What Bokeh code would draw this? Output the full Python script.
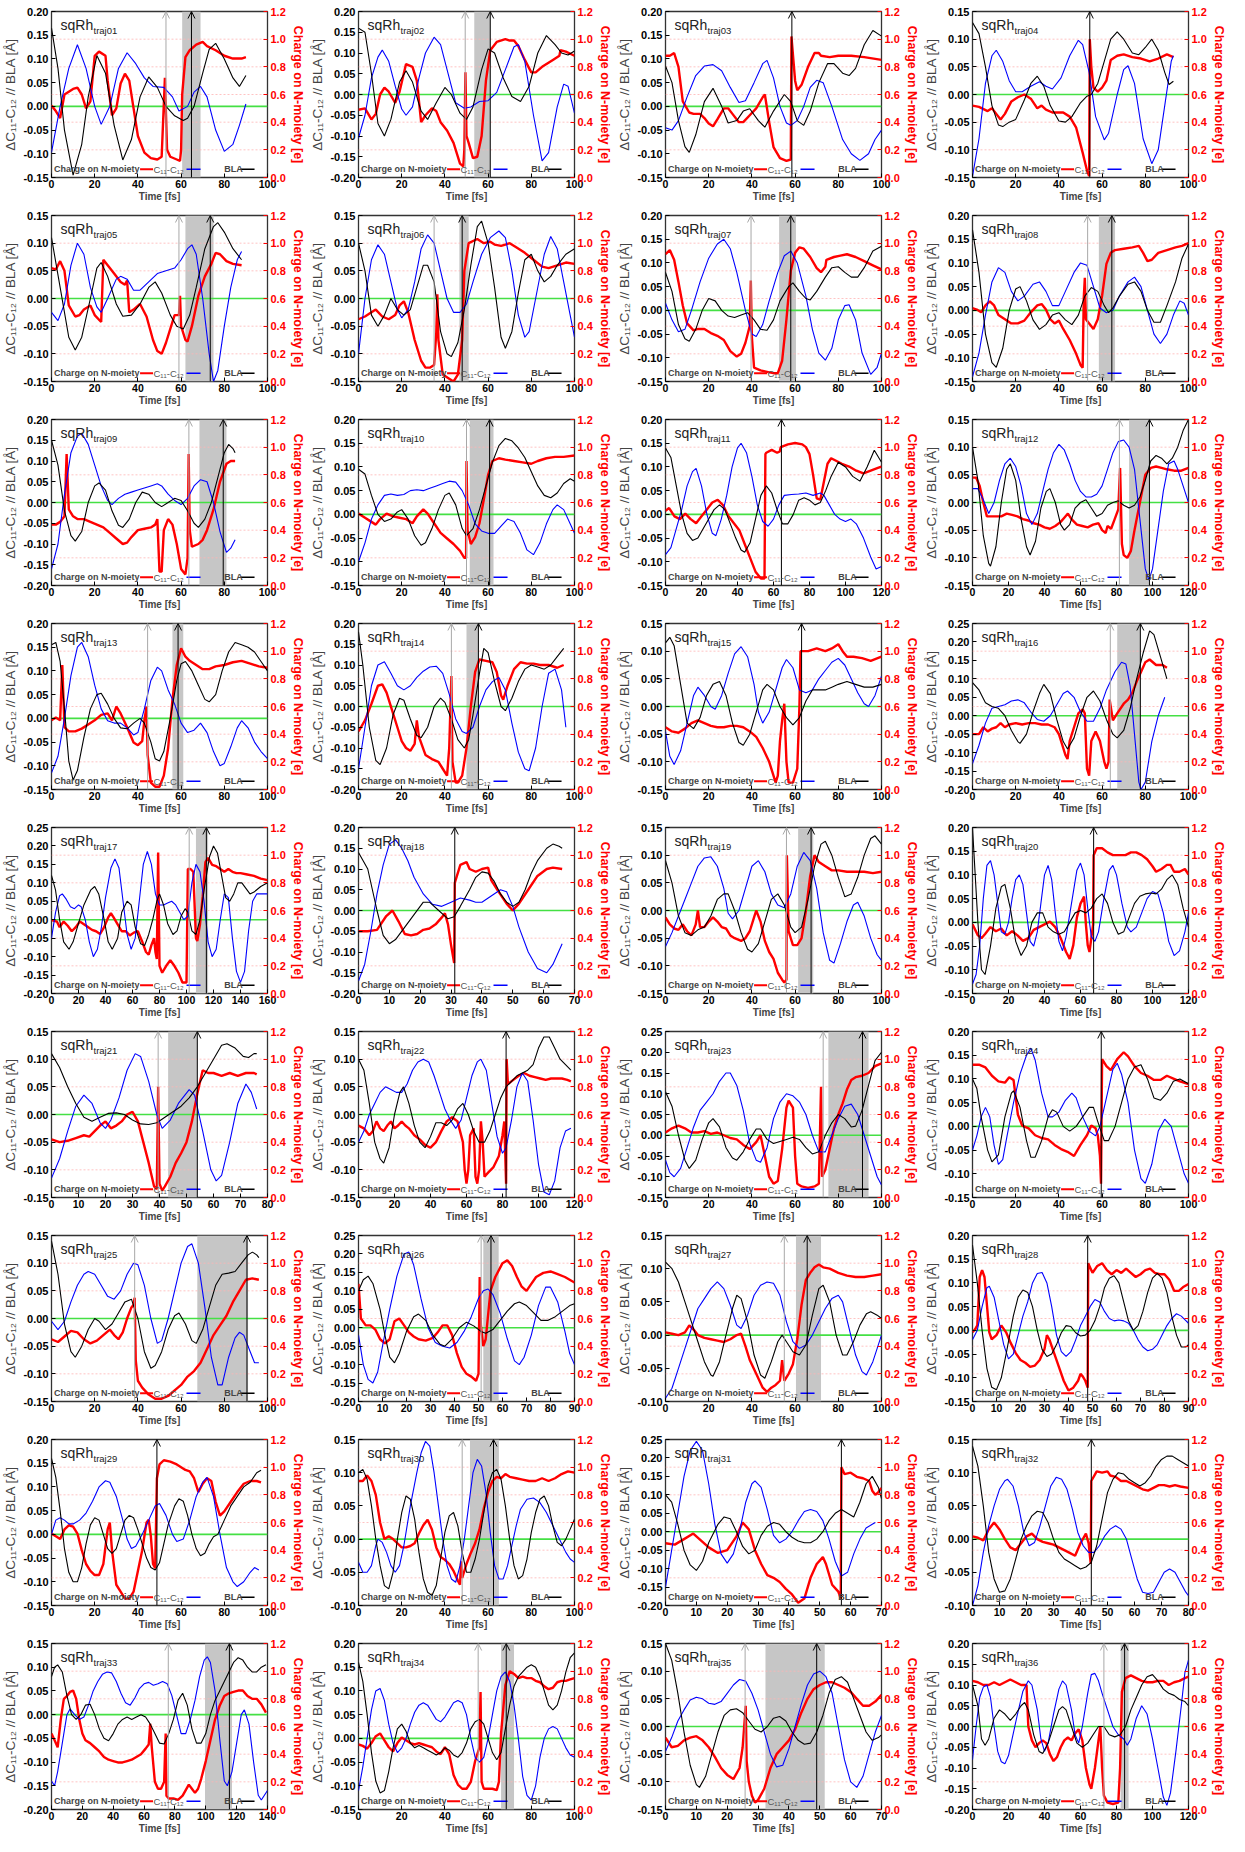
from bokeh.plotting import figure
from bokeh.layouts import gridplot
from bokeh.models import (Range1d, LinearAxis, FixedTicker, NumeralTickFormatter,
                          Span, BoxAnnotation, Arrow, OpenHead, Label)
from bokeh.embed import file_html
from bokeh.resources import INLINE

FONT = "Liberation Sans"

traj_names = ["traj01", "traj02", "traj03", "traj04", "traj05", "traj06", "traj07", "traj08",
              "traj09", "traj10", "traj11", "traj12", "traj13", "traj14", "traj15", "traj16",
              "traj17", "traj18", "traj19", "traj20", "traj21", "traj22", "traj23", "traj24",
              "traj25", "traj26", "traj27", "traj28", "traj29", "traj30", "traj31", "traj32",
              "traj33", "traj34", "traj35", "traj36"]
x_max = [100, 100, 100, 100, 100, 100, 100, 100, 100, 100, 120, 120, 100, 100, 100, 100,
         160, 70, 100, 120, 80, 120, 100, 100, 100, 90, 100, 90, 100, 100, 70, 80,
         140, 100, 70, 120]
y_lo = [-0.15, -0.20, -0.15, -0.15, -0.15, -0.15, -0.15, -0.15, -0.20, -0.15, -0.15, -0.15,
        -0.15, -0.20, -0.15, -0.20, -0.20, -0.20, -0.15, -0.15, -0.15, -0.15, -0.15, -0.15,
        -0.15, -0.20, -0.10, -0.15, -0.15, -0.10, -0.20, -0.10, -0.20, -0.15, -0.15, -0.20]
y_hi = [0.20, 0.20, 0.20, 0.15, 0.15, 0.15, 0.20, 0.20, 0.20, 0.20, 0.20, 0.15,
        0.20, 0.20, 0.15, 0.25, 0.25, 0.20, 0.15, 0.20, 0.15, 0.15, 0.25, 0.20,
        0.15, 0.25, 0.15, 0.20, 0.20, 0.15, 0.25, 0.15, 0.15, 0.20, 0.15, 0.20]
hop_attempt = [53, 49.4, None, None, 59, 35, 39.6, 53.3, 63.6, 50, None, 81.6,
               44.5, 43, None, 63.8, 102, None, 56, None, 39.5, None, 73, None,
               38.5, 51.1, 55, None, None, 48, None, None, 75.7, 55.4, 25.8, 73]
shade_start = [60.5, 53.6, None, None, 62, 46.7, 52.6, 58.5, 68.5, 51.5, None, 87,
               56, 50, None, 67, 107, None, 61.4, None, 43.2, None, 75.4, None,
               67.5, 52, 60.4, None, None, 51.6, None, None, 99.5, 66, 32.4, 82.3]
shade_end = [69, 61, None, None, 75, 51, 60.4, 66, 81, 62.5, None, 98.3,
             61, 55.5, None, 77.7, 116, None, 68.4, None, 54, None, 94, None,
             91, 58.4, 72, None, None, 65, None, None, 117, 72, 51.6, 86.7]
hop_time = [64.8, 61, 58.5, 54.3, 73.5, 48, 58, 64.5, 79.5, 60.7, 64.4, 98.3,
            58.6, 55.5, 63, 77.7, 114.7, 31.2, 67.4, 67.3, 54, 82, 91.2, 59.6,
            90.5, 55.2, 65.6, 48, 48.8, 62.5, 57, 44, 115.3, 68.4, 49, 84.5]

# ---------- traj01 ----------
bla01 = [(0,0.165),(3,0.08),(6,-0.05),(10,-0.145),(14,-0.08),(17,0.02),(21,0.107),(25,0.07),(29,-0.04),(33,-0.113),(37,-0.07),(41,0.02),(45,0.062),(49,0.04),(53,0.0),(57,-0.02),(61,-0.03),(63,-0.025),(66,0.0),(70,0.07),(73,0.12),(76,0.133),(80,0.1),(84,0.06),(87,0.042),(90,0.065)]
cc01 = [(0,-0.097),(4,0.0),(8,0.08),(12,0.13),(16,0.08),(20,0.0),(23,-0.038),(27,0.0),(31,0.08),(35,0.113),(39,0.09),(43,0.06),(47,0.042),(52,0.04),(56,0.02),(59,-0.01),(63,0.0),(66,0.03),(69,0.042),(72,0.02),(76,-0.05),(80,-0.095),(84,-0.08),(87,-0.04),(90,0.005)]
q01 = [(0,0.52),(2,0.48),(4,0.43),(6,0.6),(10,0.64),(12,0.65),(14,0.6),(16,0.5),(18,0.55),(20,0.88),(22,0.91),(25,0.88),(26,0.7),(28,0.45),(30,0.5),(32,0.68),(34,0.75),(36,0.7),(38,0.5),(40,0.3),(43,0.18),(46,0.14),(49,0.13),(51,0.15),(52.5,0.72),(53.5,0.2),(55,0.15),(58,0.13),(59.5,0.12),(60,0.2),(60.5,0.6),(62,0.87),(64,0.92),(67,0.96),(70,0.98),(72,0.95),(76,0.92),(80,0.88),(84,0.86),(88,0.86),(90,0.87)]
# ---------- traj02 ----------
bla02 = [(0,0.16),(3,0.15),(6,0.05),(9,-0.07),(12,-0.1),(15,-0.06),(19,0.03),(22,0.057),(25,0.03),(29,-0.04),(32,-0.06),(36,-0.02),(40,0.017),(43,0.0),(47,-0.045),(50,-0.06),(53,-0.03),(57,0.06),(60,0.11),(63,0.1),(67,0.04),(71,-0.005),(75,-0.017),(79,0.02),(83,0.1),(87,0.142),(91,0.12),(94,0.1),(97,0.095),(100,0.105)]
cc02 = [(0,-0.105),(3,-0.05),(6,0.04),(9,0.09),(11,0.107),(14,0.08),(17,0.02),(20,-0.035),(22,-0.05),(25,-0.03),(28,0.04),(31,0.1),(35,0.138),(38,0.12),(41,0.06),(45,-0.02),(49,-0.033),(52,-0.03),(56,-0.017),(60,-0.015),(64,0.005),(68,0.06),(72,0.115),(74,0.12),(77,0.08),(81,-0.05),(85,-0.16),(88,-0.14),(92,-0.03),(95,0.025),(97,0.02),(100,-0.045)]
q02 = [(0,0.49),(3,0.5),(6,0.42),(8,0.46),(10,0.6),(12,0.65),(14,0.62),(17,0.54),(19,0.62),(22,0.82),(25,0.8),(27,0.7),(29,0.4),(31,0.45),(34,0.5),(36,0.48),(38,0.4),(41,0.34),(44,0.25),(47,0.1),(48.5,0.08),(49,0.2),(49.5,0.76),(50,0.3),(51,0.25),(53,0.14),(55,0.15),(57,0.3),(59,0.7),(61,0.92),(64,0.98),(68,1.0),(70,0.99),(72,0.99),(74,0.95),(77,0.85),(80,0.76),(82,0.76),(85,0.8),(90,0.85),(93,0.88),(93.5,0.92),(96,0.91),(100,0.88)]
# ---------- traj03 ----------
bla03 = [(0,0.085),(3,0.05),(6,-0.03),(9,-0.085),(11,-0.097),(14,-0.06),(18,0.01),(22,0.038),(26,0.0),(29,-0.035),(33,-0.03),(36,-0.01),(39,-0.005),(43,-0.03),(46,-0.044),(50,-0.01),(55,0.025),(58,0.01),(61,-0.03),(64,-0.04),(67,-0.01),(71,0.05),(75,0.09),(78,0.09),(82,0.07),(85,0.065),(88,0.08),(92,0.13),(96,0.16),(100,0.148)]
cc03 = [(0,-0.045),(3,-0.05),(6,-0.03),(10,0.02),(14,0.065),(18,0.085),(22,0.088),(26,0.075),(30,0.04),(34,0.008),(37,0.012),(41,0.05),(45,0.09),(47,0.097),(50,0.06),(53,0.0),(56,-0.035),(58,-0.04),(61,-0.03),(64,0.0),(67,0.04),(70,0.055),(73,0.05),(77,0.0),(82,-0.07),(86,-0.1),(90,-0.114),(94,-0.1),(97,-0.07),(100,-0.05)]
q03 = [(0,0.88),(2,0.88),(4,0.9),(6,0.8),(8,0.55),(11,0.47),(13,0.46),(16,0.46),(18,0.43),(20,0.39),(22,0.37),(24,0.42),(27,0.5),(29,0.5),(31,0.46),(34,0.4),(36,0.4),(39,0.45),(42,0.5),(45,0.58),(46,0.6),(48,0.4),(50,0.22),(53,0.14),(56,0.12),(58,0.13),(58.3,1.02),(60,0.7),(61,0.63),(63,0.67),(66,0.8),(69,0.9),(71,0.9),(72,0.88),(76,0.87),(80,0.88),(86,0.88),(92,0.87),(100,0.85)]
# ---------- traj04 ----------
bla04 = [(0,0.13),(3,0.11),(6,0.05),(9,-0.02),(12,-0.055),(14,-0.058),(17,-0.05),(20,-0.045),(24,-0.01),(27,0.02),(30,0.033),(33,0.015),(36,-0.02),(40,-0.048),(43,-0.05),(46,-0.04),(50,-0.015),(53,-0.003),(55,0.0),(58,0.02),(61,0.06),(64,0.1),(67,0.113),(70,0.1),(74,0.075),(77,0.072),(80,0.085),(83,0.1),(86,0.08),(89,0.04),(91,0.018),(93,0.024)]
cc04 = [(0,-0.148),(3,-0.08),(6,0.02),(9,0.07),(11,0.08),(14,0.06),(17,0.025),(20,0.005),(23,0.005),(27,0.015),(31,0.023),(34,0.015),(37,0.01),(41,0.03),(45,0.07),(49,0.098),(51,0.09),(54,0.04),(57,-0.04),(61,-0.082),(63,-0.07),(67,0.0),(70,0.045),(72,0.052),(75,0.02),(79,-0.08),(83,-0.125),(86,-0.1),(89,-0.02),(92,0.06),(93,0.07)]
q04 = [(0,0.52),(3,0.51),(7,0.48),(9,0.5),(11,0.46),(13,0.42),(15,0.46),(18,0.55),(21,0.58),(24,0.6),(27,0.57),(30,0.5),(32,0.52),(34,0.49),(37,0.47),(42,0.47),(45,0.44),(48,0.36),(51,0.18),(53,0.05),(54,0.01),(54.3,1.0),(55,0.8),(56,0.65),(58,0.62),(60,0.65),(62,0.7),(64,0.85),(67,0.88),(70,0.89),(74,0.87),(78,0.86),(82,0.84),(86,0.86),(90,0.89),(93,0.87)]
# ---------- traj05 ----------
bla05 = [(0,0.11),(4,0.02),(8,-0.07),(11,-0.093),(14,-0.07),(18,0.0),(21,0.055),(23,0.065),(26,0.04),(30,-0.01),(33,-0.032),(37,-0.03),(41,-0.01),(45,0.02),(48,0.03),(51,0.01),(55,-0.03),(58,-0.05),(61,-0.055),(64,-0.03),(67,0.02),(71,0.09),(75,0.13),(77,0.137),(80,0.12),(84,0.09),(88,0.07)]
cc05 = [(0,-0.025),(3,-0.04),(6,-0.01),(9,0.06),(12,0.1),(15,0.08),(18,0.02),(21,-0.015),(23,-0.025),(26,0.0),(30,0.035),(32,0.04),(35,0.035),(38,0.015),(41,0.015),(45,0.03),(49,0.045),(53,0.05),(57,0.055),(60,0.07),(63,0.09),(65,0.097),(67,0.08),(70,0.0),(73,-0.1),(75,-0.15),(77,-0.13),(80,-0.05),(83,0.02),(86,0.07),(88,0.085)]
q05 = [(0,0.82),(2,0.81),(4,0.87),(6,0.8),(8,0.55),(11,0.47),(13,0.48),(15,0.52),(18,0.55),(20,0.48),(23,0.43),(24,0.88),(26,0.84),(29,0.78),(32,0.72),(34,0.7),(35,0.73),(36,0.5),(38,0.52),(41,0.56),(44,0.47),(47,0.3),(49,0.22),(51,0.2),(53,0.28),(55,0.38),(57,0.48),(59,0.48),(59.5,0.62),(60,0.4),(62,0.3),(63,0.29),(65,0.4),(68,0.62),(71,0.76),(74,0.85),(76,0.93),(78,0.92),(81,0.87),(84,0.85),(88,0.84)]
# ---------- traj06 ----------
bla06 = [(0,0.1),(3,0.05),(6,-0.03),(9,-0.05),(12,-0.03),(15,0.0),(18,-0.02),(21,-0.03),(24,-0.02),(27,0.02),(30,0.06),(32,0.06),(35,0.03),(38,-0.06),(41,-0.1),(43,-0.105),(46,-0.08),(49,-0.02),(52,0.06),(55,0.13),(57,0.14),(60,0.1),(63,0.02),(66,-0.07),(68,-0.09),(71,-0.06),(74,0.01),(77,0.07),(80,0.08),(83,0.05),(86,0.03),(89,0.04),(92,0.06),(96,0.08),(100,0.09)]
cc06 = [(0,-0.1),(3,0.0),(6,0.07),(9,0.097),(12,0.08),(15,0.03),(18,-0.02),(20,-0.035),(23,-0.02),(26,0.03),(29,0.09),(32,0.115),(35,0.1),(38,0.05),(41,0.0),(44,-0.025),(47,-0.025),(50,-0.01),(53,0.03),(57,0.08),(61,0.11),(65,0.122),(68,0.11),(71,0.05),(74,-0.03),(77,-0.07),(79,-0.06),(82,0.0),(86,0.08),(89,0.112),(92,0.09),(95,0.03),(98,-0.03),(100,-0.07)]
q06 = [(0,0.45),(3,0.47),(6,0.5),(8,0.52),(11,0.47),(14,0.45),(17,0.48),(19,0.55),(21,0.58),(23,0.5),(26,0.3),(29,0.15),(31,0.1),(33,0.1),(35,0.12),(36,0.35),(36.5,0.63),(37,0.3),(39,0.05),(42,0.02),(44,0.0),(46,0.05),(48,0.3),(49,0.8),(51,1.0),(55,1.03),(58,1.0),(61,1.01),(63,0.99),(66,0.98),(68,0.99),(70,1.0),(73,0.97),(77,0.93),(81,0.88),(85,0.83),(88,0.82),(92,0.84),(96,0.86),(100,0.85)]
# ---------- traj07 ----------
bla07 = [(0,0.08),(3,0.04),(6,-0.03),(9,-0.06),(11,-0.065),(14,-0.04),(17,0.0),(20,0.025),(23,0.02),(26,0.0),(29,-0.012),(32,-0.015),(35,-0.01),(38,-0.005),(41,-0.02),(44,-0.04),(47,-0.042),(50,-0.02),(53,0.02),(57,0.05),(59,0.058),(62,0.04),(65,0.025),(67,0.022),(70,0.04),(74,0.07),(77,0.09),(80,0.092),(83,0.08),(86,0.07),(89,0.07),(92,0.09),(96,0.125),(100,0.135)]
cc07 = [(0,0.015),(3,-0.02),(6,-0.045),(9,-0.04),(12,0.0),(16,0.06),(20,0.11),(24,0.14),(27,0.15),(30,0.13),(33,0.08),(37,0.0),(40,-0.05),(42,-0.055),(45,-0.03),(48,0.02),(52,0.08),(55,0.115),(58,0.125),(61,0.1),(65,0.03),(68,-0.04),(71,-0.09),(74,-0.105),(77,-0.08),(80,-0.02),(83,0.01),(85,0.012),(88,-0.02),(91,-0.09),(95,-0.135),(98,-0.12),(100,-0.09)]
q07 = [(0,0.92),(2,0.95),(4,0.88),(6,0.72),(8,0.55),(10,0.42),(13,0.37),(15,0.38),(18,0.38),(21,0.35),(24,0.33),(27,0.3),(30,0.22),(33,0.18),(35,0.2),(37,0.28),(39,0.4),(39.5,0.73),(40,0.32),(41,0.1),(44,0.08),(47,0.07),(50,0.06),(52,0.06),(54,0.15),(56,0.45),(58,0.8),(60,0.93),(62,0.97),(64,0.96),(67,0.9),(70,0.82),(72,0.79),(74,0.83),(74.5,0.88),(78,0.9),(81,0.91),(84,0.92),(88,0.9),(92,0.87),(96,0.84),(100,0.81)]
# ---------- traj08 ----------
bla08 = [(0,0.17),(3,0.08),(6,-0.05),(9,-0.11),(11,-0.12),(14,-0.08),(17,0.0),(20,0.045),(22,0.05),(25,0.02),(28,-0.02),(31,-0.04),(34,-0.03),(37,-0.01),(40,-0.005),(43,-0.02),(46,-0.03),(49,-0.01),(52,0.03),(55,0.048),(58,0.04),(61,0.01),(63,-0.005),(65,0.005),(68,0.03),(72,0.055),(75,0.06),(78,0.04),(81,0.0),(84,-0.025),(87,-0.025),(90,0.01),(94,0.06),(97,0.11),(100,0.14)]
cc08 = [(0,-0.14),(3,-0.09),(6,-0.01),(9,0.06),(12,0.09),(15,0.08),(18,0.04),(21,0.02),(24,0.03),(28,0.055),(31,0.06),(34,0.04),(37,0.01),(40,0.01),(43,0.04),(47,0.08),(50,0.1),(53,0.095),(56,0.05),(59,0.005),(62,-0.005),(65,0.0),(68,0.03),(72,0.06),(75,0.07),(78,0.05),(81,0.0),(84,-0.05),(87,-0.07),(90,-0.05),(93,-0.01),(96,0.02),(98,0.015),(100,-0.01)]
q08 = [(0,0.53),(2,0.52),(4,0.5),(6,0.55),(8,0.58),(10,0.55),(12,0.48),(15,0.45),(18,0.42),(21,0.42),(24,0.44),(27,0.5),(30,0.55),(32,0.56),(34,0.52),(36,0.45),(38,0.42),(40,0.44),(42,0.38),(45,0.3),(48,0.2),(50,0.12),(51,0.1),(51.5,0.6),(52,0.75),(52.5,0.45),(54,0.42),(56,0.38),(58,0.45),(60,0.62),(62,0.85),(64,0.93),(66,0.95),(70,0.96),(74,0.97),(77,0.98),(79,0.93),(81,0.87),(83,0.88),(86,0.93),(90,0.95),(94,0.97),(97,0.98),(100,1.0)]
# ---------- traj09 ----------
bla09 = [(0,0.15),(3,0.09),(6,-0.02),(9,-0.08),(11,-0.093),(14,-0.07),(17,0.0),(20,0.04),(22,0.047),(25,0.03),(28,-0.02),(31,-0.055),(33,-0.06),(36,-0.04),(39,0.0),(42,0.025),(45,0.02),(48,0.0),(51,-0.01),(54,0.0),(57,0.01),(60,0.005),(63,-0.02),(66,-0.05),(68,-0.06),(71,-0.04),(74,0.0),(77,0.06),(80,0.12),(82,0.14),(84,0.13),(85,0.12)]
cc09 = [(0,-0.16),(3,-0.1),(6,0.02),(9,0.12),(12,0.16),(14,0.167),(17,0.14),(20,0.09),(23,0.04),(26,0.005),(28,-0.005),(31,0.01),(34,0.02),(37,0.025),(40,0.03),(43,0.035),(46,0.04),(49,0.045),(51,0.04),(54,0.02),(57,0.005),(60,-0.005),(63,0.01),(66,0.04),(69,0.055),(72,0.05),(75,0.0),(78,-0.07),(81,-0.12),(83,-0.11),(85,-0.09)]
q09 = [(0,0.44),(2,0.44),(4,0.46),(6,0.5),(7,0.95),(8,0.55),(10,0.5),(12,0.48),(15,0.48),(18,0.46),(21,0.44),(24,0.42),(27,0.38),(30,0.34),(33,0.3),(35,0.31),(37,0.35),(40,0.4),(43,0.41),(46,0.42),(48,0.44),(49,0.48),(50,0.1),(51,0.1),(52,0.4),(54,0.48),(56,0.44),(58,0.3),(60,0.12),(62,0.08),(63,0.2),(63.5,0.95),(64,0.4),(65,0.28),(68,0.3),(70,0.33),(72,0.4),(75,0.55),(78,0.75),(81,0.88),(83,0.9),(85,0.9)]
# ---------- traj10 ----------
bla10 = [(0,0.095),(3,0.085),(6,0.04),(9,0.0),(12,-0.015),(15,-0.01),(18,0.005),(20,0.01),(23,-0.01),(26,-0.045),(29,-0.065),(31,-0.06),(34,-0.03),(37,0.01),(40,0.04),(42,0.045),(45,0.02),(48,-0.03),(50,-0.045),(53,-0.03),(56,0.01),(59,0.06),(62,0.11),(65,0.145),(68,0.16),(71,0.155),(74,0.14),(77,0.12),(80,0.09),(83,0.06),(86,0.04),(89,0.035),(92,0.045),(95,0.065),(98,0.075),(100,0.07)]
cc10 = [(0,-0.1),(3,-0.06),(6,-0.01),(9,0.02),(12,0.04),(15,0.043),(18,0.04),(21,0.042),(24,0.05),(27,0.052),(30,0.05),(33,0.055),(36,0.06),(39,0.065),(42,0.07),(45,0.068),(48,0.05),(51,0.02),(54,-0.02),(57,-0.035),(60,-0.04),(63,-0.04),(66,-0.025),(69,-0.01),(72,-0.015),(75,-0.04),(78,-0.075),(81,-0.085),(84,-0.06),(87,-0.02),(90,0.01),(92,0.02),(95,0.01),(98,-0.02),(100,-0.04)]
q10 = [(0,0.52),(3,0.49),(6,0.46),(8,0.44),(10,0.48),(13,0.52),(16,0.5),(19,0.49),(22,0.48),(25,0.45),(27,0.5),(30,0.55),(32,0.52),(35,0.45),(38,0.38),(41,0.34),(44,0.3),(47,0.25),(49,0.2),(49.8,0.2),(50,0.9),(50.5,0.4),(52,0.3),(54,0.35),(56,0.45),(58,0.62),(60,0.8),(62,0.9),(65,0.92),(68,0.91),(72,0.9),(76,0.89),(80,0.88),(83,0.9),(87,0.92),(91,0.93),(95,0.93),(100,0.94)]
# ---------- traj11 ----------
bla11 = [(0,0.14),(3,0.12),(6,0.06),(9,0.0),(12,-0.04),(15,-0.055),(18,-0.05),(21,-0.03),(24,-0.01),(27,0.01),(30,0.02),(33,0.01),(36,-0.02),(39,-0.05),(42,-0.075),(44,-0.08),(47,-0.06),(50,-0.01),(53,0.04),(56,0.06),(59,0.045),(62,0.01),(65,-0.02),(68,-0.02),(71,0.0),(74,0.03),(77,0.035),(80,0.03),(83,0.02),(86,0.025),(89,0.05),(92,0.08),(96,0.11),(100,0.1),(104,0.08),(108,0.07),(112,0.1),(116,0.135),(120,0.11)]
cc11 = [(0,-0.085),(3,-0.07),(6,-0.03),(9,0.01),(12,0.06),(15,0.09),(17,0.097),(20,0.06),(23,0.0),(26,-0.04),(28,-0.045),(31,-0.01),(34,0.04),(37,0.1),(40,0.14),(42,0.15),(45,0.13),(48,0.08),(51,0.02),(54,-0.015),(57,-0.025),(60,-0.01),(63,0.02),(66,0.04),(70,0.042),(74,0.043),(78,0.045),(82,0.04),(86,0.045),(88,0.04),(91,0.02),(94,0.0),(97,-0.01),(100,-0.015),(103,-0.01),(106,-0.02),(110,-0.05),(114,-0.09),(117,-0.115),(120,-0.11)]
q11 = [(0,0.54),(2,0.56),(5,0.5),(8,0.48),(11,0.52),(14,0.48),(17,0.45),(20,0.5),(23,0.55),(26,0.6),(29,0.62),(32,0.58),(35,0.5),(38,0.45),(41,0.4),(44,0.3),(47,0.2),(50,0.1),(53,0.05),(55,0.05),(55.5,0.95),(56,0.96),(59,0.98),(62,0.96),(63.5,0.97),(64,1.0),(68,1.02),(72,1.03),(76,1.02),(78,1.0),(80,0.95),(82,0.8),(84,0.63),(86,0.62),(88,0.75),(90,0.88),(92,0.92),(95,0.9),(98,0.88),(102,0.86),(106,0.83),(110,0.81),(114,0.83),(118,0.85),(120,0.86)]
# ---------- traj12 ----------
bla12 = [(0,0.1),(3,0.04),(6,-0.06),(9,-0.11),(10,-0.115),(13,-0.08),(16,0.0),(19,0.06),(21,0.07),(24,0.04),(27,-0.03),(30,-0.08),(32,-0.095),(35,-0.07),(38,-0.01),(41,0.02),(43,0.025),(46,0.0),(49,-0.04),(51,-0.05),(54,-0.04),(57,-0.01),(60,0.0),(63,0.005),(66,-0.01),(69,-0.025),(72,-0.02),(75,-0.005),(78,0.0),(81,0.003),(84,-0.005),(87,-0.01),(90,-0.005),(93,0.01),(96,0.04),(99,0.075),(102,0.085),(105,0.08),(108,0.07),(111,0.08),(114,0.1),(117,0.13),(120,0.15)]
cc12 = [(0,0.025),(3,0.025),(6,0.005),(9,-0.02),(12,0.0),(15,0.04),(18,0.07),(21,0.08),(24,0.065),(27,0.03),(30,-0.02),(33,-0.04),(36,-0.02),(39,0.02),(42,0.06),(45,0.09),(48,0.105),(51,0.095),(54,0.07),(57,0.04),(60,0.02),(63,0.01),(66,0.01),(69,0.015),(72,0.03),(75,0.06),(78,0.09),(81,0.11),(84,0.113),(87,0.1),(90,0.06),(93,-0.03),(96,-0.12),(98,-0.14),(100,-0.12),(103,-0.05),(106,0.02),(109,0.07),(112,0.075),(114,0.06),(117,0.03),(120,0.0)]
q12 = [(0,0.78),(2,0.78),(4,0.72),(6,0.6),(8,0.5),(10,0.5),(13,0.5),(16,0.5),(19,0.52),(22,0.51),(25,0.5),(28,0.48),(31,0.47),(34,0.45),(37,0.44),(40,0.42),(43,0.41),(46,0.43),(49,0.46),(51,0.49),(53,0.52),(55,0.48),(58,0.44),(61,0.43),(64,0.42),(67,0.44),(70,0.45),(72,0.4),(74,0.38),(75,0.43),(77,0.41),(79,0.48),(81,0.55),(82,0.85),(83,0.3),(84,0.22),(86,0.2),(88,0.25),(90,0.4),(93,0.6),(96,0.8),(99,0.85),(102,0.86),(105,0.85),(108,0.84),(112,0.83),(116,0.83),(120,0.85)]
# ---------- traj13 ----------
bla13 = [(0,0.155),(2,0.16),(4,0.12),(6,0.02),(8,-0.09),(10,-0.13),(12,-0.11),(15,-0.04),(18,0.02),(21,0.05),(23,0.053),(26,0.03),(29,0.0),(32,-0.02),(35,-0.022),(38,-0.01),(41,0.0),(43,-0.01),(46,-0.05),(48,-0.085),(50,-0.09),(52,-0.07),(55,0.0),(58,0.08),(60,0.115),(62,0.12),(65,0.1),(68,0.07),(71,0.04),(73,0.035),(76,0.05),(79,0.1),(82,0.14),(85,0.16),(88,0.155),(91,0.15),(94,0.14),(97,0.12),(100,0.1)]
cc13 = [(0,-0.115),(3,-0.08),(6,0.0),(9,0.09),(12,0.15),(14,0.16),(17,0.13),(20,0.07),(23,0.02),(26,-0.005),(29,-0.01),(32,-0.01),(35,-0.02),(38,-0.035),(40,-0.03),(43,0.02),(46,0.08),(49,0.108),(51,0.1),(54,0.06),(57,0.03),(60,-0.01),(63,-0.03),(66,-0.025),(69,-0.01),(72,-0.03),(75,-0.07),(78,-0.1),(80,-0.095),(83,-0.06),(86,-0.02),(88,-0.005),(91,-0.02),(94,-0.05),(97,-0.07),(100,-0.085)]
q13 = [(0,0.5),(2,0.52),(4,0.5),(5,0.9),(6,0.45),(8,0.42),(11,0.42),(14,0.44),(17,0.47),(20,0.5),(23,0.54),(26,0.55),(28,0.5),(30,0.6),(32,0.55),(35,0.45),(38,0.34),(40,0.32),(42,0.35),(43,0.5),(44,0.6),(44.5,0.25),(46,0.05),(48,0.02),(50,0.02),(52,0.1),(54,0.3),(56,0.65),(58,0.9),(60,1.02),(62,0.96),(64,0.93),(67,0.9),(70,0.87),(73,0.87),(76,0.89),(80,0.9),(84,0.92),(88,0.93),(92,0.91),(96,0.89),(100,0.88)]
# ---------- traj14 ----------
bla14 = [(0,0.18),(2,0.1),(5,-0.05),(8,-0.13),(10,-0.14),(13,-0.1),(16,-0.02),(19,0.02),(21,0.015),(24,-0.03),(27,-0.07),(29,-0.075),(32,-0.05),(35,0.0),(38,0.02),(40,0.01),(43,-0.03),(46,-0.08),(49,-0.1),(51,-0.08),(53,-0.02),(56,0.08),(58,0.14),(60,0.13),(63,0.06),(66,0.0),(68,-0.01),(71,0.02),(74,0.06),(77,0.09),(80,0.1),(83,0.095),(86,0.09),(89,0.1),(92,0.12),(95,0.14)]
cc14 = [(0,-0.15),(3,-0.05),(6,0.05),(9,0.1),(12,0.108),(15,0.08),(18,0.05),(21,0.04),(24,0.05),(27,0.07),(30,0.085),(33,0.095),(36,0.097),(39,0.08),(42,0.03),(45,-0.03),(48,-0.06),(50,-0.065),(53,-0.05),(56,0.0),(59,0.04),(62,0.06),(65,0.07),(68,0.04),(71,-0.04),(74,-0.11),(77,-0.15),(79,-0.155),(82,-0.1),(85,0.0),(88,0.08),(91,0.09),(94,0.04),(96,-0.05)]
q14 = [(0,0.42),(3,0.5),(6,0.62),(9,0.75),(11,0.76),(13,0.7),(16,0.55),(18,0.45),(20,0.35),(22,0.3),(24,0.28),(26,0.33),(27,0.5),(28,0.38),(31,0.25),(34,0.22),(37,0.2),(39,0.15),(41,0.1),(42,0.3),(43,0.82),(43.5,0.2),(45,0.05),(46,0.05),(48,0.1),(50,0.3),(52,0.6),(54,0.85),(56,0.94),(59,0.93),(62,0.92),(64,0.85),(66,0.68),(67,0.65),(69,0.75),(72,0.87),(75,0.92),(78,0.91),(81,0.91),(84,0.9),(88,0.9),(92,0.88),(95,0.9)]
# ---------- traj15 ----------
bla15 = [(0,0.115),(2,0.125),(4,0.11),(7,0.04),(10,-0.03),(13,-0.04),(16,-0.02),(19,0.02),(22,0.04),(25,0.045),(28,0.02),(31,-0.03),(34,-0.065),(36,-0.07),(39,-0.05),(42,-0.01),(45,0.03),(47,0.04),(50,0.03),(53,0.0),(56,-0.02),(59,-0.033),(62,-0.02),(65,0.01),(68,0.03),(71,0.03),(74,0.03),(77,0.035),(80,0.04),(84,0.045),(88,0.04),(92,0.035),(96,0.035),(100,0.04)]
cc15 = [(0,-0.045),(2,-0.09),(4,-0.105),(7,-0.08),(10,-0.03),(13,0.02),(15,0.035),(18,0.02),(21,0.0),(23,-0.005),(26,0.02),(29,0.06),(32,0.095),(35,0.108),(38,0.09),(41,0.04),(43,-0.01),(45,-0.03),(48,-0.01),(51,0.03),(54,0.07),(56,0.085),(59,0.07),(62,0.03),(65,0.025),(68,0.03),(71,0.05),(74,0.065),(77,0.08),(80,0.087),(83,0.075),(86,0.05),(89,0.025),(92,0.005),(94,0.0),(97,0.02),(100,0.055)]
q15 = [(0,0.45),(3,0.42),(6,0.41),(9,0.44),(12,0.48),(15,0.5),(18,0.48),(21,0.46),(24,0.45),(27,0.45),(30,0.46),(33,0.46),(36,0.45),(39,0.42),(42,0.38),(45,0.3),(48,0.2),(50,0.1),(51,0.05),(52,0.1),(53,0.35),(54,0.5),(55,0.62),(56,0.2),(57,0.05),(59,0.05),(61,0.15),(62,0.6),(62.5,1.0),(66,1.0),(70,1.02),(74,1.0),(77,1.02),(80,1.05),(82,1.0),(84,0.96),(87,0.96),(91,0.95),(95,0.93),(100,0.96)]
# ---------- traj16 ----------
bla16 = [(0,0.09),(3,0.07),(6,0.035),(9,0.025),(12,0.02),(15,0.0),(18,-0.04),(21,-0.07),(22,-0.075),(25,-0.05),(28,0.01),(31,0.06),(33,0.085),(36,0.06),(39,-0.01),(42,-0.07),(44,-0.09),(47,-0.06),(50,0.0),(53,0.05),(56,0.067),(59,0.04),(62,-0.01),(65,-0.05),(67,-0.06),(70,-0.04),(73,0.02),(76,0.1),(79,0.17),(82,0.23),(84,0.22),(87,0.16),(90,0.1)]
cc16 = [(0,-0.13),(3,-0.08),(6,-0.02),(9,0.02),(12,0.025),(15,0.03),(18,0.04),(21,0.043),(24,0.035),(27,0.01),(30,-0.01),(33,-0.015),(36,0.0),(39,0.03),(42,0.06),(44,0.067),(47,0.05),(50,0.01),(53,-0.015),(56,-0.015),(59,0.02),(62,0.07),(66,0.12),(69,0.145),(71,0.14),(73,0.08),(75,-0.05),(77,-0.18),(78,-0.2),(80,-0.18),(83,-0.07),(86,0.0),(89,0.05)]
q16 = [(0,0.4),(3,0.4),(5,0.45),(7,0.42),(9,0.44),(11,0.45),(13,0.48),(15,0.45),(17,0.47),(20,0.48),(23,0.47),(26,0.48),(29,0.48),(32,0.47),(35,0.47),(38,0.45),(40,0.4),(42,0.3),(43,0.25),(44,0.22),(45,0.35),(47,0.45),(49,0.55),(51,0.58),(52,0.55),(53,0.15),(54,0.1),(55,0.35),(57,0.42),(59,0.35),(61,0.2),(62,0.15),(63,0.2),(63.5,0.65),(65,0.5),(67,0.55),(70,0.62),(72,0.65),(74,0.7),(76,0.78),(78,0.85),(80,0.92),(82,0.94),(85,0.9),(88,0.9),(90,0.88)]
# ---------- traj17 ----------
bla17 = [(0,0.12),(3,0.08),(6,0.0),(9,-0.06),(13,-0.08),(16,-0.06),(20,-0.01),(24,0.04),(29,0.08),(32,0.09),(35,0.07),(39,0.0),(42,-0.06),(45,-0.08),(49,-0.05),(52,0.02),(56,0.05),(59,0.04),(62,-0.02),(66,-0.065),(69,-0.07),(72,-0.04),(75,0.0),(78,0.05),(80,0.07),(83,0.04),(86,-0.01),(90,-0.04),(93,-0.03),(96,0.01),(99,0.03),(101,0.02),(104,-0.03),(107,-0.04),(110,0.0),(113,0.08),(117,0.17),(120,0.2),(123,0.18),(126,0.12),(129,0.06),(132,0.05),(135,0.07),(138,0.1),(141,0.1),(144,0.085),(147,0.07),(150,0.075),(155,0.09),(160,0.1)]
cc17 = [(0,-0.05),(3,0.02),(6,0.065),(8,0.07),(11,0.055),(14,0.035),(17,0.03),(20,0.04),(22,0.035),(25,0.0),(28,-0.06),(31,-0.1),(34,-0.08),(37,-0.02),(40,0.06),(44,0.14),(47,0.165),(50,0.14),(53,0.05),(56,-0.04),(59,-0.08),(62,-0.05),(65,0.05),(68,0.15),(71,0.185),(74,0.15),(77,0.07),(80,0.04),(83,0.04),(86,0.045),(89,0.05),(92,0.04),(95,0.02),(98,0.0),(101,0.01),(104,0.1),(107,0.15),(110,0.13),(113,0.05),(116,-0.06),(119,-0.1),(122,-0.08),(125,0.0),(128,0.07),(131,0.06),(134,-0.05),(137,-0.14),(140,-0.17),(143,-0.14),(146,-0.03),(149,0.05),(152,0.07),(156,0.07),(160,0.07)]
q17 = [(0,0.53),(4,0.52),(6,0.48),(9,0.52),(12,0.49),(15,0.45),(18,0.48),(21,0.52),(24,0.5),(27,0.48),(30,0.46),(33,0.45),(36,0.43),(39,0.48),(42,0.55),(44,0.58),(46,0.55),(49,0.5),(52,0.45),(55,0.45),(58,0.42),(61,0.44),(64,0.45),(67,0.38),(70,0.3),(72,0.28),(74,0.35),(76,0.4),(77,0.3),(78,0.25),(79,1.02),(80,0.2),(82,0.15),(85,0.2),(88,0.24),(91,0.2),(94,0.15),(97,0.08),(100,0.08),(101,0.9),(103,0.9),(105,0.88),(107,0.4),(108,0.38),(110,0.5),(112,0.7),(114,0.95),(116,0.98),(119,0.93),(122,0.92),(125,0.9),(128,0.88),(131,0.9),(134,0.88),(137,0.87),(140,0.87),(145,0.86),(150,0.85),(155,0.83),(160,0.82)]
# ---------- traj18 ----------
bla18 = [(0,0.14),(3,0.1),(6,0.0),(8,-0.06),(10,-0.08),(12,-0.07),(15,-0.04),(18,-0.01),(21,0.02),(23,0.02),(26,0.0),(29,-0.02),(31,-0.015),(33,0.01),(36,0.05),(38,0.08),(40,0.093),(42,0.09),(44,0.07),(46,0.04),(48,0.02),(50,0.01),(52,0.02),(54,0.05),(56,0.09),(58,0.12),(61,0.15),(63,0.16),(65,0.155),(66,0.15)]
cc18 = [(0,-0.17),(2,-0.13),(4,-0.05),(6,0.04),(8,0.11),(10,0.16),(12,0.17),(14,0.15),(16,0.12),(18,0.08),(21,0.04),(24,0.015),(27,0.01),(30,0.02),(33,0.03),(36,0.025),(38,0.02),(40,0.02),(43,0.035),(46,0.05),(48,0.045),(50,0.01),(52,-0.04),(55,-0.1),(58,-0.14),(61,-0.15),(63,-0.13),(66,-0.08)]
q18 = [(0,0.45),(3,0.45),(6,0.46),(9,0.56),(11,0.6),(13,0.52),(15,0.43),(17,0.42),(19,0.43),(21,0.46),(23,0.47),(25,0.5),(27,0.55),(28,0.58),(29,0.5),(30,0.35),(31,0.22),(31.2,0.8),(33,0.93),(35,0.95),(36,0.9),(38,0.88),(40,0.9),(42,0.91),(43,0.82),(45,0.75),(48,0.65),(50,0.6),(52,0.65),(55,0.75),(58,0.85),(61,0.9),(63,0.91),(66,0.9)]
# ---------- traj19 ----------
bla19 = [(0,0.09),(3,0.05),(6,-0.01),(9,-0.04),(12,-0.045),(15,-0.035),(18,-0.03),(21,-0.01),(24,0.02),(27,0.03),(29,0.03),(32,0.0),(35,-0.04),(38,-0.07),(40,-0.075),(43,-0.06),(46,-0.02),(49,0.02),(52,0.03),(55,0.01),(58,-0.03),(60,-0.04),(63,-0.03),(66,0.02),(69,0.08),(72,0.12),(74,0.125),(77,0.1),(80,0.06),(83,0.025),(86,0.03),(89,0.06),(92,0.1),(95,0.13),(97,0.135),(100,0.12)]
cc19 = [(0,-0.065),(3,-0.04),(6,-0.01),(9,0.02),(12,0.05),(15,0.08),(18,0.095),(21,0.097),(24,0.08),(27,0.04),(29,-0.005),(31,-0.015),(34,0.0),(37,0.04),(40,0.08),(43,0.09),(46,0.07),(49,0.03),(52,0.01),(55,0.005),(58,0.03),(61,0.08),(64,0.105),(67,0.09),(70,0.04),(73,-0.04),(76,-0.09),(78,-0.095),(81,-0.06),(84,-0.02),(87,0.01),(89,0.015),(92,-0.01),(95,-0.05),(98,-0.08),(100,-0.09)]
q19 = [(0,0.55),(2,0.5),(4,0.47),(6,0.46),(8,0.5),(10,0.45),(12,0.42),(14,0.5),(15,0.6),(16,0.48),(18,0.48),(20,0.52),(22,0.55),(24,0.52),(26,0.48),(28,0.47),(30,0.42),(32,0.4),(35,0.38),(37,0.4),(39,0.45),(41,0.55),(42,0.6),(44,0.52),(46,0.38),(48,0.3),(50,0.25),(52,0.15),(54,0.1),(55,0.08),(56,0.1),(56.2,1.0),(57,0.45),(59,0.35),(61,0.35),(63,0.4),(65,0.6),(67,0.85),(69,1.0),(71,0.95),(74,0.92),(77,0.89),(80,0.89),(84,0.88),(88,0.88),(92,0.88),(96,0.87),(100,0.88)]
# ---------- traj20 ----------
bla20 = [(0,0.2),(3,0.0),(5,-0.1),(7,-0.11),(10,-0.05),(13,0.03),(16,0.075),(18,0.08),(21,0.03),(24,-0.04),(27,-0.07),(30,-0.05),(33,0.0),(36,0.02),(39,0.02),(42,-0.01),(45,-0.02),(48,-0.025),(51,-0.02),(54,0.0),(57,0.02),(60,0.025),(63,0.02),(66,0.03),(69,0.05),(72,0.06),(75,0.04),(78,0.0),(81,-0.025),(84,-0.02),(87,0.01),(90,0.04),(93,0.055),(96,0.06),(99,0.062),(102,0.06),(105,0.07),(108,0.09),(111,0.1),(114,0.08),(117,0.03),(120,-0.01)]
cc20 = [(0,-0.13),(2,-0.11),(4,-0.05),(6,0.05),(8,0.12),(10,0.13),(12,0.1),(14,0.04),(16,-0.02),(18,-0.025),(20,0.0),(22,0.05),(24,0.09),(26,0.1),(28,0.08),(30,0.02),(32,-0.04),(34,-0.05),(36,-0.02),(38,0.04),(40,0.1),(42,0.12),(44,0.09),(46,0.02),(48,-0.04),(50,-0.06),(52,-0.03),(55,0.04),(58,0.11),(60,0.125),(62,0.1),(64,0.03),(66,-0.03),(68,-0.04),(70,-0.02),(73,0.05),(76,0.11),(78,0.12),(80,0.1),(83,0.04),(86,-0.01),(88,-0.02),(91,-0.01),(94,0.02),(97,0.05),(100,0.065),(103,0.06),(106,0.02),(109,-0.04),(112,-0.07),(115,-0.06),(118,-0.02),(120,0.02)]
q20 = [(0,0.5),(3,0.42),(5,0.4),(7,0.43),(10,0.48),(13,0.45),(16,0.47),(19,0.42),(22,0.45),(25,0.42),(28,0.38),(31,0.4),(34,0.46),(37,0.48),(40,0.5),(43,0.52),(46,0.48),(49,0.4),(52,0.3),(54,0.25),(56,0.35),(58,0.55),(60,0.65),(62,0.7),(63,0.5),(64,0.35),(65,0.3),(66,0.4),(67,0.5),(67.3,1.0),(69,1.05),(72,1.05),(75,1.02),(78,1.0),(81,1.0),(85,1.0),(88,1.02),(91,1.02),(94,1.0),(97,0.97),(100,0.92),(102,0.88),(105,0.9),(108,0.93),(110,0.93),(112,0.88),(115,0.88),(118,0.9),(120,0.86)]
# ---------- traj21 ----------
bla21 = [(0,0.11),(3,0.085),(6,0.05),(9,0.02),(12,-0.005),(15,-0.012),(18,-0.005),(21,0.002),(24,0.003),(27,0.0),(30,-0.01),(33,-0.017),(36,-0.018),(39,-0.015),(42,-0.005),(45,0.005),(48,0.015),(51,0.03),(54,0.05),(57,0.075),(60,0.1),(63,0.125),(65,0.128),(68,0.12),(71,0.105),(73,0.103),(75,0.11),(76,0.11)]
cc21 = [(0,-0.115),(3,-0.08),(6,-0.03),(9,0.015),(12,0.035),(15,0.02),(18,-0.015),(20,-0.025),(22,-0.01),(25,0.03),(28,0.08),(31,0.11),(33,0.105),(36,0.06),(39,0.0),(41,-0.025),(44,-0.01),(47,0.02),(51,0.045),(53,0.035),(56,-0.03),(59,-0.1),(61,-0.12),(63,-0.11),(66,-0.05),(69,0.02),(72,0.055),(74,0.04),(76,0.01)]
q21 = [(0,0.42),(3,0.4),(6,0.41),(9,0.43),(12,0.45),(14,0.44),(16,0.48),(18,0.52),(20,0.55),(22,0.5),(24,0.52),(26,0.55),(28,0.6),(30,0.62),(32,0.55),(34,0.4),(36,0.25),(38,0.08),(39,0.06),(39.5,0.8),(40,0.1),(41,0.05),(42,0.08),(44,0.15),(46,0.25),(48,0.32),(50,0.4),(52,0.55),(54,0.75),(56,0.92),(58,0.9),(60,0.9),(63,0.88),(66,0.9),(69,0.88),(72,0.9),(75,0.9),(76,0.89)]
# ---------- traj22 ----------
bla22 = [(0,0.1),(3,0.08),(6,0.02),(9,-0.05),(12,-0.08),(14,-0.088),(17,-0.06),(20,0.0),(23,0.04),(25,0.05),(28,0.02),(31,-0.02),(34,-0.05),(37,-0.06),(40,-0.04),(43,-0.015),(46,-0.015),(49,-0.02),(52,-0.01),(55,0.01),(58,0.02),(61,0.0),(64,-0.03),(67,-0.05),(70,-0.05),(73,-0.03),(76,0.0),(79,0.03),(82,0.05),(85,0.06),(88,0.07),(91,0.075),(94,0.08),(97,0.09),(100,0.12),(103,0.14),(106,0.14),(109,0.12),(112,0.1),(115,0.09),(118,0.08)]
cc22 = [(0,-0.05),(3,-0.03),(6,0.0),(9,0.02),(12,0.04),(15,0.05),(18,0.045),(21,0.04),(24,0.04),(27,0.055),(30,0.08),(33,0.095),(36,0.1),(39,0.095),(42,0.07),(45,0.04),(48,0.01),(51,-0.01),(54,-0.025),(57,-0.01),(60,0.03),(63,0.07),(66,0.095),(68,0.1),(71,0.08),(74,0.02),(77,-0.04),(80,-0.07),(82,-0.06),(85,-0.01),(88,0.05),(91,0.075),(94,0.06),(97,-0.01),(100,-0.09),(103,-0.14),(106,-0.145),(109,-0.12),(112,-0.06),(115,-0.03),(118,-0.025)]
q22 = [(0,0.52),(3,0.5),(6,0.45),(8,0.48),(10,0.55),(12,0.5),(14,0.48),(16,0.52),(18,0.55),(20,0.5),(22,0.52),(24,0.55),(26,0.52),(28,0.5),(31,0.45),(34,0.42),(37,0.38),(40,0.36),(43,0.4),(46,0.48),(49,0.55),(52,0.58),(55,0.55),(58,0.4),(59,0.2),(60,0.1),(61,0.2),(62,0.45),(64,0.5),(65,0.15),(66,0.1),(67,0.2),(68,0.55),(69,0.4),(70,0.15),(72,0.18),(75,0.22),(78,0.3),(80,0.45),(81,0.55),(82,0.1),(82.3,1.0),(83,0.82),(86,0.85),(89,0.88),(92,0.9),(95,0.88),(98,0.87),(101,0.86),(104,0.85),(107,0.86),(110,0.86),(113,0.86),(116,0.85),(118,0.84)]
# ---------- traj23 ----------
bla23 = [(0,0.105),(3,0.07),(6,0.0),(9,-0.06),(11,-0.08),(14,-0.06),(17,-0.01),(20,0.03),(22,0.04),(25,0.02),(28,-0.03),(31,-0.055),(33,-0.06),(36,-0.04),(39,-0.01),(42,0.015),(44,0.015),(47,-0.01),(50,-0.02),(53,-0.015),(56,-0.01),(59,-0.005),(62,-0.01),(65,-0.03),(68,-0.045),(71,-0.04),(74,0.0),(77,0.03),(80,0.05),(83,0.04),(86,0.02),(88,0.022),(91,0.06),(94,0.12),(97,0.18),(100,0.2)]
cc23 = [(0,-0.06),(2,-0.09),(4,-0.1),(7,-0.08),(10,-0.03),(13,0.02),(16,0.06),(19,0.08),(22,0.1),(25,0.13),(28,0.15),(30,0.15),(33,0.12),(36,0.06),(39,-0.02),(42,-0.06),(44,-0.065),(47,-0.03),(50,0.04),(53,0.08),(56,0.1),(59,0.095),(62,0.08),(65,0.05),(68,0.0),(71,-0.04),(74,-0.04),(77,0.0),(80,0.04),(83,0.07),(86,0.075),(89,0.05),(92,0.0),(95,-0.05),(98,-0.1),(100,-0.12)]
q23 = [(0,0.47),(3,0.5),(6,0.52),(9,0.5),(12,0.47),(15,0.47),(18,0.48),(21,0.46),(24,0.47),(27,0.45),(30,0.43),(33,0.42),(36,0.38),(39,0.35),(42,0.4),(44,0.45),(46,0.3),(48,0.15),(50,0.1),(52,0.12),(54,0.35),(56,0.65),(57,0.7),(59,0.65),(60,0.3),(61,0.1),(63,0.08),(66,0.07),(69,0.08),(71,0.1),(72,0.8),(72.5,0.15),(74,0.2),(76,0.35),(78,0.5),(80,0.6),(82,0.68),(84,0.78),(86,0.85),(88,0.87),(91,0.88),(94,0.9),(97,0.95),(100,0.97)]
# ---------- traj24 ----------
bla24 = [(0,0.1),(2,0.08),(4,0.02),(7,-0.05),(9,-0.075),(12,-0.06),(15,0.02),(18,0.07),(19,0.075),(22,0.04),(25,-0.03),(27,-0.065),(29,-0.065),(32,-0.03),(35,0.02),(37,0.035),(39,0.03),(42,0.0),(45,-0.01),(48,0.0),(51,0.02),(54,0.04),(56,0.04),(58,0.01),(61,-0.03),(63,-0.03),(66,0.0),(69,0.05),(72,0.1),(75,0.125),(78,0.13),(81,0.1),(84,0.06),(87,0.055),(90,0.07),(93,0.095),(96,0.1),(100,0.09)]
cc24 = [(0,-0.05),(2,-0.02),(4,0.02),(6,0.04),(8,0.02),(10,-0.04),(12,-0.08),(14,-0.07),(16,-0.02),(19,0.05),(22,0.11),(25,0.15),(27,0.165),(29,0.14),(32,0.07),(35,0.02),(37,0.02),(40,0.03),(43,0.055),(46,0.07),(48,0.06),(51,0.02),(54,-0.01),(57,-0.02),(59,0.0),(62,0.06),(65,0.12),(67,0.133),(69,0.11),(72,0.05),(75,-0.05),(78,-0.11),(80,-0.12),(83,-0.08),(86,-0.01),(89,0.015),(92,0.0),(95,-0.05),(98,-0.1),(100,-0.12)]
q24 = [(0,0.96),(3,0.96),(6,0.94),(9,0.88),(12,0.84),(15,0.83),(17,0.87),(19,0.85),(21,0.6),(23,0.52),(26,0.5),(29,0.45),(32,0.43),(35,0.42),(38,0.38),(41,0.35),(44,0.33),(47,0.3),(50,0.38),(53,0.45),(55,0.52),(57,0.5),(58,0.45),(59,0.3),(59.5,0.1),(60,1.0),(62,0.95),(64,0.92),(67,1.0),(70,1.05),(72,1.02),(75,0.95),(78,0.9),(81,0.88),(84,0.85),(87,0.85),(90,0.88),(93,0.86),(96,0.84),(100,0.82)]
# ---------- traj25 ----------
bla25 = [(0,0.14),(3,0.08),(6,-0.01),(9,-0.06),(11,-0.07),(14,-0.05),(17,-0.02),(20,0.0),(22,-0.005),(25,-0.02),(28,-0.01),(31,0.01),(34,0.03),(37,0.035),(40,0.0),(43,-0.06),(46,-0.09),(48,-0.085),(51,-0.06),(54,-0.02),(57,0.005),(59,0.01),(62,-0.01),(65,-0.04),(67,-0.045),(70,-0.02),(73,0.02),(76,0.06),(79,0.08),(82,0.082),(85,0.085),(88,0.1),(91,0.115),(93,0.12),(95,0.115),(96,0.11)]
cc25 = [(0,-0.005),(3,-0.02),(6,-0.005),(9,0.03),(12,0.06),(15,0.08),(17,0.085),(20,0.08),(23,0.06),(26,0.04),(29,0.035),(32,0.05),(35,0.08),(38,0.1),(40,0.097),(43,0.06),(46,0.0),(49,-0.045),(51,-0.04),(54,0.0),(57,0.05),(60,0.1),(63,0.13),(65,0.135),(68,0.1),(71,0.02),(74,-0.07),(77,-0.12),(79,-0.12),(82,-0.07),(85,-0.035),(87,-0.025),(89,-0.03),(92,-0.06),(94,-0.08),(96,-0.08)]
q25 = [(0,0.45),(3,0.43),(6,0.47),(9,0.51),(12,0.5),(15,0.45),(18,0.42),(21,0.44),(24,0.48),(27,0.52),(29,0.48),(31,0.45),(33,0.5),(35,0.6),(37,0.68),(38,0.7),(38.5,0.75),(39,0.3),(40,0.15),(42,0.1),(45,0.05),(48,0.02),(51,0.02),(54,0.04),(57,0.08),(60,0.12),(63,0.18),(66,0.22),(69,0.28),(72,0.38),(75,0.48),(78,0.55),(81,0.62),(84,0.72),(87,0.8),(90,0.88),(93,0.89),(96,0.88)]
# ---------- traj26 ----------
bla26 = [(0,0.1),(2,0.13),(4,0.14),(6,0.12),(9,0.05),(11,-0.02),(13,-0.08),(15,-0.095),(17,-0.07),(20,-0.01),(23,0.03),(25,0.037),(28,0.02),(31,-0.02),(34,-0.045),(36,-0.05),(39,-0.03),(42,0.0),(45,0.015),(48,0.005),(51,-0.01),(53,-0.015),(56,-0.005),(59,0.02),(62,0.045),(65,0.065),(67,0.07),(70,0.06),(73,0.04),(76,0.02),(79,0.02),(82,0.03),(85,0.045),(88,0.06),(90,0.065)]
cc26 = [(0,-0.02),(2,-0.1),(4,-0.14),(6,-0.15),(8,-0.12),(10,-0.05),(13,0.05),(16,0.14),(19,0.2),(21,0.205),(23,0.17),(26,0.08),(29,0.0),(32,-0.04),(35,-0.05),(38,-0.055),(41,-0.04),(44,-0.01),(47,0.03),(50,0.08),(52,0.1),(54,0.105),(56,0.09),(59,0.04),(62,-0.03),(65,-0.09),(67,-0.1),(69,-0.08),(72,-0.02),(75,0.06),(78,0.11),(80,0.11),(83,0.07),(86,-0.01),(88,-0.07),(90,-0.1)]
q26 = [(0,0.85),(1,0.6),(3,0.55),(5,0.55),(7,0.52),(9,0.45),(11,0.42),(13,0.45),(15,0.58),(17,0.6),(19,0.55),(21,0.5),(23,0.47),(25,0.45),(28,0.44),(31,0.46),(33,0.5),(35,0.55),(37,0.55),(39,0.48),(41,0.35),(43,0.25),(45,0.2),(47,0.18),(49,0.15),(50,0.2),(50.5,0.9),(51,0.55),(52,0.4),(53,0.45),(55,0.8),(57,0.9),(60,1.0),(62,1.02),(64,0.98),(66,0.9),(68,0.83),(70,0.8),(72,0.85),(74,0.9),(77,0.93),(80,0.94),(83,0.92),(86,0.9),(90,0.86)]
# ---------- traj27 ----------
bla27 = [(0,0.11),(3,0.1),(6,0.08),(9,0.05),(12,0.02),(15,-0.01),(18,-0.04),(21,-0.06),(22,-0.062),(25,-0.04),(28,0.0),(31,0.04),(33,0.06),(35,0.055),(38,0.02),(41,-0.03),(44,-0.06),(46,-0.065),(49,-0.04),(52,-0.01),(54,0.0),(56,-0.01),(59,-0.025),(62,-0.03),(65,-0.015),(68,0.03),(71,0.07),(73,0.075),(76,0.05),(79,0.0),(82,-0.03),(84,-0.03),(87,-0.01),(90,0.015),(93,0.032),(95,0.035),(98,0.03),(100,0.025)]
cc27 = [(0,-0.095),(3,-0.08),(6,-0.05),(9,-0.02),(12,0.01),(15,0.04),(18,0.055),(21,0.07),(24,0.08),(27,0.07),(30,0.045),(33,0.015),(35,0.01),(38,0.03),(41,0.06),(44,0.075),(47,0.08),(50,0.078),(53,0.06),(56,0.02),(59,-0.01),(62,-0.02),(65,-0.015),(68,0.0),(71,0.02),(74,0.04),(77,0.055),(80,0.06),(82,0.05),(85,0.01),(88,-0.03),(91,-0.055),(93,-0.06),(96,-0.04),(98,-0.02),(100,0.0)]
q27 = [(0,0.5),(3,0.49),(6,0.48),(9,0.5),(11,0.55),(13,0.52),(15,0.48),(18,0.46),(21,0.45),(24,0.44),(27,0.43),(30,0.45),(33,0.48),(35,0.49),(37,0.4),(39,0.3),(42,0.2),(45,0.1),(47,0.07),(49,0.1),(51,0.12),(53,0.15),(54,0.3),(55,0.15),(57,0.2),(59,0.27),(61,0.45),(63,0.7),(65,0.88),(67,0.93),(69,0.97),(71,0.99),(73,0.97),(76,0.96),(80,0.93),(84,0.91),(88,0.9),(92,0.9),(96,0.91),(100,0.92)]
# ---------- traj28 ----------
bla28 = [(0,0.18),(2,0.1),(4,0.0),(6,-0.08),(8,-0.12),(10,-0.125),(12,-0.1),(14,-0.05),(17,0.03),(19,0.07),(21,0.085),(23,0.08),(25,0.05),(27,0.0),(29,-0.04),(31,-0.055),(33,-0.05),(35,-0.03),(37,-0.005),(39,0.01),(41,0.008),(43,-0.005),(45,-0.012),(47,-0.01),(49,0.0),(51,0.02),(53,0.05),(55,0.09),(57,0.11),(59,0.115),(61,0.1),(63,0.06),(65,0.02),(67,0.0),(69,0.01),(71,0.04),(73,0.08),(75,0.11),(77,0.12),(79,0.11),(81,0.08),(83,0.03),(85,-0.01),(87,-0.035),(89,-0.035),(90,-0.03)]
cc28 = [(0,-0.02),(2,0.0),(4,0.05),(6,0.09),(7,0.093),(9,0.07),(11,0.02),(13,-0.03),(15,-0.06),(17,-0.05),(19,-0.01),(21,0.03),(23,0.06),(25,0.1),(27,0.12),(29,0.122),(31,0.1),(33,0.05),(35,-0.01),(37,-0.045),(39,-0.055),(41,-0.045),(43,-0.02),(45,0.01),(47,0.03),(49,0.05),(51,0.065),(53,0.06),(55,0.04),(57,0.025),(59,0.02),(61,0.022),(63,0.02),(65,0.015),(67,0.0),(69,-0.02),(71,-0.035),(73,-0.043),(75,-0.04),(77,-0.03),(79,-0.01),(81,0.01),(83,0.025),(85,0.035),(87,0.03),(89,0.02),(90,0.015)]
q28 = [(0,0.5),(1,0.52),(2,0.55),(3,0.9),(4,0.95),(5,0.9),(6,0.7),(7,0.5),(8,0.45),(10,0.48),(12,0.55),(14,0.5),(16,0.42),(18,0.35),(20,0.3),(22,0.28),(24,0.25),(26,0.26),(28,0.3),(30,0.38),(31,0.48),(32,0.45),(34,0.35),(36,0.25),(38,0.15),(40,0.08),(42,0.1),(44,0.15),(45,0.2),(46,0.18),(47,0.15),(48,0.1),(48.2,1.0),(50,0.93),(52,0.98),(54,1.0),(56,0.95),(58,0.92),(60,0.95),(62,0.93),(64,0.96),(66,0.93),(68,0.9),(70,0.92),(72,0.95),(74,0.96),(76,0.93),(78,0.92),(80,0.92),(82,0.88),(84,0.8),(86,0.8),(88,0.83),(90,0.85)]
# ---------- traj29 ----------
bla29 = [(0,0.16),(2,0.12),(4,0.05),(6,-0.03),(8,-0.08),(10,-0.1),(12,-0.1),(14,-0.07),(16,-0.02),(18,0.02),(20,0.035),(22,0.03),(24,0.0),(26,-0.03),(28,-0.04),(30,-0.03),(32,0.0),(34,0.03),(36,0.04),(38,0.035),(40,0.01),(42,-0.02),(44,-0.05),(46,-0.07),(48,-0.075),(50,-0.06),(52,-0.02),(54,0.02),(57,0.06),(59,0.075),(61,0.07),(63,0.04),(65,0.0),(67,-0.03),(69,-0.045),(71,-0.04),(73,-0.02),(75,-0.005),(77,0.0),(80,0.03),(83,0.06),(86,0.08),(89,0.1),(92,0.11),(95,0.13),(97,0.135)]
cc29 = [(0,0.0),(2,0.03),(4,0.035),(6,0.03),(8,0.022),(10,0.022),(13,0.03),(16,0.045),(19,0.07),(22,0.1),(25,0.113),(27,0.11),(30,0.08),(33,0.03),(35,-0.01),(37,-0.03),(39,-0.025),(42,0.0),(45,0.03),(48,0.06),(50,0.065),(53,0.04),(56,0.0),(58,-0.015),(61,-0.01),(64,0.03),(67,0.08),(70,0.11),(72,0.12),(75,0.08),(78,0.0),(81,-0.07),(84,-0.1),(86,-0.11),(89,-0.1),(92,-0.08),(94,-0.07),(96,-0.075)]
q29 = [(0,0.52),(2,0.5),(4,0.48),(6,0.55),(8,0.58),(10,0.57),(12,0.52),(14,0.4),(16,0.3),(18,0.25),(20,0.22),(22,0.22),(24,0.3),(26,0.55),(27,0.6),(28,0.4),(30,0.15),(32,0.1),(34,0.05),(36,0.05),(38,0.1),(40,0.25),(42,0.4),(44,0.6),(45,0.62),(46,0.5),(47,0.3),(48,0.27),(48.8,0.92),(50,1.02),(52,1.05),(55,1.04),(58,1.02),(60,1.0),(62,0.98),(64,0.97),(66,0.92),(68,0.82),(70,0.88),(72,0.92),(74,0.9),(76,0.75),(78,0.65),(80,0.68),(83,0.75),(86,0.82),(89,0.88),(92,0.9),(95,0.9),(97,0.89)]
# ---------- traj30 ----------
bla30 = [(0,0.1),(2,0.105),(4,0.09),(6,0.05),(8,0.0),(10,-0.04),(12,-0.07),(14,-0.075),(16,-0.05),(18,0.0),(20,0.04),(22,0.065),(24,0.06),(26,0.03),(28,-0.02),(30,-0.06),(32,-0.08),(34,-0.085),(36,-0.07),(38,-0.03),(40,0.01),(42,0.035),(44,0.04),(46,0.02),(48,-0.02),(50,-0.05),(52,-0.05),(54,-0.03),(56,0.0),(58,0.04),(60,0.08),(62,0.1),(64,0.105),(66,0.09),(68,0.05),(70,0.0),(72,-0.04),(74,-0.06),(76,-0.055),(78,-0.03),(80,0.01),(82,0.04),(84,0.06),(86,0.065),(88,0.05),(90,0.02),(92,-0.005),(94,-0.01),(96,0.0),(98,0.015),(100,0.03)]
cc30 = [(0,-0.035),(2,-0.05),(4,-0.05),(6,-0.04),(8,-0.01),(9,0.0),(11,-0.005),(13,-0.02),(15,-0.04),(17,-0.05),(19,-0.04),(21,-0.01),(24,0.05),(27,0.1),(29,0.13),(31,0.147),(33,0.14),(35,0.1),(37,0.05),(39,0.0),(41,-0.04),(43,-0.06),(45,-0.065),(47,-0.04),(49,0.0),(51,0.05),(53,0.1),(55,0.12),(57,0.11),(59,0.07),(61,0.01),(63,-0.04),(65,-0.06),(67,-0.06),(69,-0.04),(71,-0.01),(73,0.02),(75,0.045),(78,0.06),(81,0.062),(84,0.055),(87,0.04),(90,0.02),(93,0.0),(96,-0.02),(98,-0.03),(100,-0.035)]
q30 = [(0,0.9),(2,0.9),(4,0.94),(6,0.9),(8,0.8),(10,0.6),(12,0.48),(14,0.5),(16,0.48),(18,0.45),(20,0.42),(22,0.42),(24,0.43),(26,0.45),(28,0.52),(30,0.58),(32,0.62),(34,0.55),(36,0.42),(38,0.35),(40,0.33),(42,0.3),(44,0.25),(46,0.18),(47,0.15),(47.5,0.32),(48,0.2),(50,0.3),(52,0.38),(54,0.45),(56,0.55),(58,0.7),(60,0.82),(62,0.9),(64,0.93),(66,0.92),(68,0.95),(70,0.93),(73,0.92),(76,0.91),(79,0.9),(82,0.9),(85,0.92),(88,0.9),(91,0.92),(94,0.95),(97,0.97),(100,0.96)]
# ---------- traj31 ----------
bla31 = [(0,0.1),(2,0.08),(4,0.02),(6,-0.05),(8,-0.09),(10,-0.105),(12,-0.08),(14,-0.03),(17,0.02),(19,0.04),(21,0.035),(23,0.0),(25,-0.04),(27,-0.06),(29,-0.05),(31,-0.01),(33,0.015),(35,0.025),(37,0.02),(39,0.0),(41,-0.015),(43,-0.025),(45,-0.03),(47,-0.03),(49,-0.02),(51,0.0),(53,0.03),(55,0.05),(57,0.06),(59,0.05),(61,0.04),(63,0.08),(65,0.13),(67,0.15),(69,0.12),(70,0.09)]
cc31 = [(0,-0.15),(2,-0.05),(4,0.05),(6,0.15),(8,0.22),(10,0.245),(12,0.22),(14,0.13),(16,0.02),(18,-0.06),(20,-0.085),(22,-0.06),(24,0.0),(26,0.08),(28,0.13),(29,0.138),(31,0.12),(33,0.06),(35,-0.01),(37,-0.03),(39,-0.02),(41,0.0),(43,0.03),(45,0.055),(47,0.06),(49,0.055),(51,0.03),(53,-0.02),(55,-0.08),(57,-0.12),(59,-0.11),(61,-0.06),(63,-0.02),(65,0.01),(67,0.02),(68,0.025)]
q31 = [(0,0.45),(3,0.44),(6,0.48),(9,0.52),(11,0.48),(14,0.42),(17,0.38),(20,0.4),(23,0.5),(25,0.6),(27,0.55),(29,0.4),(31,0.3),(33,0.22),(35,0.2),(37,0.17),(39,0.12),(41,0.08),(43,0.02),(45,0.05),(47,0.2),(49,0.3),(51,0.35),(52,0.3),(54,0.15),(56,0.1),(56.8,0.05),(57,1.0),(58,0.95),(60,0.96),(62,0.93),(64,0.92),(66,0.9),(67,0.83),(68,0.8),(69,0.82),(70,0.85)]
# ---------- traj32 ----------
bla32 = [(0,0.14),(2,0.11),(4,0.05),(6,-0.02),(8,-0.06),(10,-0.08),(12,-0.078),(14,-0.06),(16,-0.03),(18,0.0),(20,0.02),(22,0.035),(24,0.042),(26,0.04),(28,0.025),(30,0.0),(32,-0.02),(34,-0.03),(36,-0.035),(38,-0.04),(40,-0.045),(42,-0.042),(44,-0.035),(46,-0.01),(48,0.03),(50,0.07),(52,0.09),(54,0.1),(56,0.098),(58,0.09),(60,0.085),(62,0.08),(64,0.085),(66,0.095),(68,0.11),(70,0.12),(72,0.125),(74,0.125),(76,0.12),(78,0.115),(80,0.11)]
cc32 = [(0,-0.1),(2,-0.07),(4,-0.02),(6,0.02),(8,0.05),(10,0.075),(12,0.088),(13,0.09),(15,0.08),(17,0.05),(19,0.01),(21,-0.01),(23,-0.005),(25,0.02),(27,0.05),(29,0.08),(31,0.093),(33,0.09),(35,0.075),(37,0.045),(39,0.01),(41,-0.01),(43,-0.02),(45,-0.02),(47,-0.01),(49,0.005),(51,0.015),(53,0.02),(55,0.015),(57,0.0),(59,-0.03),(61,-0.06),(63,-0.08),(65,-0.082),(67,-0.08),(69,-0.065),(71,-0.05),(73,-0.045),(75,-0.05),(77,-0.065),(79,-0.08),(80,-0.085)]
q32 = [(0,0.5),(2,0.49),(4,0.47),(6,0.55),(8,0.6),(10,0.55),(12,0.48),(14,0.42),(16,0.4),(18,0.45),(20,0.5),(22,0.52),(24,0.48),(26,0.46),(28,0.45),(30,0.44),(32,0.42),(34,0.4),(36,0.38),(38,0.36),(40,0.45),(42,0.52),(43,0.45),(43.8,0.3),(44,0.9),(46,0.97),(48,0.96),(50,0.97),(51,0.94),(53,0.93),(55,0.9),(57,0.9),(59,0.88),(61,0.86),(63,0.84),(65,0.83),(67,0.85),(69,0.87),(71,0.87),(73,0.86),(75,0.87),(77,0.86),(80,0.85)]
# ---------- traj33 ----------
bla33 = [(0,0.08),(2,0.1),(4,0.105),(7,0.09),(10,0.04),(13,0.0),(16,-0.01),(19,0.0),(22,0.02),(25,0.022),(28,0.0),(31,-0.03),(34,-0.05),(37,-0.055),(40,-0.04),(43,-0.02),(46,-0.01),(49,-0.005),(52,-0.01),(55,-0.005),(58,0.0),(61,-0.005),(64,-0.02),(67,-0.04),(70,-0.06),(73,-0.062),(76,-0.04),(79,-0.01),(82,0.03),(85,0.045),(88,0.02),(91,-0.03),(94,-0.06),(97,-0.06),(100,-0.04),(103,0.0),(106,0.03),(109,0.05),(112,0.07),(115,0.09),(118,0.11),(121,0.12),(124,0.115),(127,0.1),(130,0.09),(133,0.09),(136,0.1),(139,0.105)]
cc33 = [(0,-0.14),(2,-0.15),(4,-0.12),(7,-0.06),(10,0.0),(12,0.012),(15,0.0),(18,-0.01),(21,-0.005),(24,0.02),(27,0.05),(30,0.07),(33,0.085),(36,0.09),(39,0.088),(42,0.07),(45,0.045),(48,0.025),(51,0.02),(54,0.035),(57,0.055),(60,0.065),(63,0.068),(66,0.062),(69,0.065),(72,0.07),(75,0.065),(78,0.04),(81,0.0),(84,-0.04),(87,-0.04),(90,-0.01),(93,0.03),(96,0.08),(99,0.115),(101,0.122),(103,0.11),(106,0.05),(109,-0.05),(112,-0.14),(114,-0.15),(117,-0.12),(120,-0.06),(123,0.0),(125,0.01),(128,-0.02),(131,-0.1),(134,-0.17),(136,-0.18),(138,-0.17),(140,-0.16)]
q33 = [(0,0.55),(2,0.5),(4,0.45),(6,0.65),(8,0.8),(10,0.82),(12,0.85),(14,0.86),(16,0.8),(18,0.65),(20,0.55),(22,0.5),(25,0.48),(28,0.45),(31,0.42),(34,0.38),(37,0.36),(40,0.35),(43,0.34),(46,0.34),(49,0.35),(52,0.36),(55,0.38),(58,0.4),(61,0.44),(63,0.47),(64,0.62),(65,0.45),(67,0.2),(69,0.15),(71,0.15),(73,0.2),(74,0.55),(74.5,0.1),(76,0.08),(79,0.08),(82,0.07),(85,0.1),(87,0.14),(89,0.18),(91,0.15),(93,0.12),(95,0.15),(97,0.22),(100,0.35),(103,0.5),(106,0.65),(109,0.75),(112,0.82),(115,0.84),(118,0.85),(121,0.86),(124,0.86),(127,0.82),(130,0.8),(133,0.8),(136,0.76),(139,0.7)]
# ---------- traj34 ----------
bla34 = [(0,0.16),(2,0.12),(4,0.05),(6,-0.03),(8,-0.09),(10,-0.115),(12,-0.11),(14,-0.07),(16,-0.02),(18,0.02),(20,0.03),(22,0.015),(24,-0.01),(26,-0.02),(28,-0.015),(30,-0.02),(32,-0.025),(34,-0.03),(36,-0.035),(38,-0.03),(40,-0.02),(42,-0.025),(44,-0.035),(46,-0.04),(48,-0.03),(50,-0.01),(52,0.02),(54,0.035),(56,0.04),(58,0.03),(60,0.0),(62,-0.03),(64,-0.045),(66,-0.03),(68,0.02),(70,0.07),(72,0.11),(74,0.13),(76,0.14),(78,0.15),(80,0.155),(82,0.15),(84,0.13),(86,0.1),(88,0.07),(90,0.06),(92,0.07),(94,0.1),(96,0.14),(98,0.17),(100,0.18)]
cc34 = [(0,-0.11),(2,-0.06),(4,0.0),(6,0.06),(8,0.1),(10,0.105),(12,0.08),(14,0.03),(16,-0.01),(18,-0.03),(20,-0.02),(22,0.0),(24,0.03),(26,0.055),(28,0.07),(30,0.075),(32,0.07),(34,0.055),(36,0.04),(38,0.035),(40,0.045),(42,0.06),(44,0.075),(46,0.08),(48,0.075),(50,0.05),(52,0.0),(54,-0.04),(56,-0.05),(58,-0.04),(60,0.0),(62,0.05),(64,0.1),(66,0.13),(68,0.14),(70,0.12),(72,0.07),(74,0.0),(76,-0.08),(78,-0.12),(80,-0.13),(82,-0.1),(84,-0.04),(86,0.0),(88,0.02),(90,0.025),(92,0.02),(94,0.0),(96,-0.02),(98,-0.035),(100,-0.04)]
q34 = [(0,0.47),(2,0.46),(4,0.44),(6,0.48),(8,0.53),(10,0.55),(12,0.5),(14,0.45),(16,0.42),(18,0.48),(20,0.52),(22,0.5),(24,0.48),(26,0.47),(28,0.48),(30,0.47),(32,0.46),(34,0.45),(36,0.42),(38,0.4),(40,0.45),(42,0.4),(44,0.25),(46,0.18),(48,0.15),(50,0.15),(52,0.2),(54,0.35),(56,0.45),(56.5,0.85),(57,0.2),(58,0.15),(60,0.15),(62,0.15),(64,0.14),(65,0.2),(66,0.55),(68,0.9),(70,1.0),(72,0.98),(74,0.95),(76,0.96),(78,0.95),(80,0.95),(82,0.93),(84,0.92),(86,0.89),(88,0.87),(90,0.88),(92,0.92),(94,0.93),(96,0.93),(98,0.94),(100,0.95)]
# ---------- traj35 ----------
bla35 = [(0,0.15),(2,0.12),(4,0.06),(6,-0.01),(8,-0.07),(10,-0.105),(11,-0.11),(13,-0.09),(15,-0.05),(17,-0.01),(19,0.02),(21,0.03),(23,0.032),(25,0.025),(27,0.01),(29,-0.005),(31,-0.01),(33,0.0),(35,0.015),(37,0.018),(39,0.01),(41,-0.01),(43,-0.025),(45,-0.032),(47,-0.03),(49,-0.01),(51,0.02),(53,0.06),(55,0.085),(57,0.09),(59,0.08),(61,0.05),(63,0.02),(65,-0.01),(67,-0.025),(69,-0.02),(70,-0.015)]
cc35 = [(0,-0.045),(2,-0.02),(4,0.01),(6,0.03),(8,0.048),(10,0.053),(12,0.05),(14,0.042),(16,0.04),(18,0.045),(20,0.06),(22,0.075),(24,0.085),(26,0.082),(28,0.06),(30,0.03),(32,-0.01),(34,-0.05),(36,-0.073),(38,-0.07),(40,-0.04),(42,0.0),(44,0.04),(46,0.075),(48,0.095),(50,0.1),(52,0.09),(54,0.06),(56,0.0),(58,-0.06),(60,-0.1),(62,-0.11),(64,-0.09),(66,-0.05),(68,-0.01),(70,0.02)]
q35 = [(0,0.52),(2,0.45),(4,0.46),(6,0.5),(8,0.52),(10,0.53),(12,0.5),(14,0.45),(16,0.38),(18,0.3),(20,0.25),(22,0.22),(24,0.3),(25,0.45),(26,0.75),(26.3,0.35),(27,0.2),(28,0.1),(29,0.05),(30,0.07),(32,0.15),(34,0.3),(36,0.4),(38,0.45),(40,0.5),(42,0.58),(44,0.7),(46,0.8),(48,0.87),(50,0.9),(52,0.92),(54,0.92),(56,0.9),(58,0.88),(60,0.85),(62,0.8),(64,0.75),(66,0.75),(68,0.78),(70,0.83)]
# ---------- traj36 ----------
bla36 = [(0,0.1),(3,0.05),(5,-0.03),(7,-0.045),(9,-0.03),(12,0.02),(15,0.04),(18,0.03),(21,0.015),(24,0.03),(27,0.05),(29,0.058),(31,0.04),(34,-0.02),(37,-0.06),(39,-0.065),(42,-0.04),(45,0.0),(48,0.04),(50,0.048),(52,0.04),(55,0.0),(58,-0.04),(61,-0.05),(64,-0.04),(67,-0.02),(70,0.0),(73,0.0),(76,-0.02),(79,-0.025),(82,-0.02),(85,0.0),(88,0.04),(91,0.07),(94,0.1),(97,0.12),(100,0.125),(103,0.11),(106,0.09),(109,0.08),(112,0.075),(115,0.065),(118,0.06),(120,0.05)]
cc36 = [(0,-0.08),(2,0.0),(4,0.07),(6,0.095),(8,0.1),(10,0.07),(12,0.0),(14,-0.06),(16,-0.085),(18,-0.09),(20,-0.07),(22,-0.03),(25,0.03),(28,0.085),(31,0.11),(33,0.1),(36,0.04),(38,-0.03),(40,-0.06),(42,-0.04),(45,0.03),(48,0.09),(50,0.11),(52,0.1),(55,0.04),(57,-0.02),(59,-0.04),(61,0.0),(64,0.08),(66,0.125),(68,0.128),(70,0.11),(72,0.08),(75,0.04),(78,0.0),(81,-0.02),(84,-0.03),(86,-0.045),(88,-0.03),(91,0.02),(94,0.05),(97,0.03),(100,-0.03),(103,-0.1),(106,-0.17),(108,-0.19),(110,-0.16),(113,-0.06),(116,0.05),(118,0.13),(120,0.16)]
q36 = [(0,0.93),(3,0.92),(6,0.9),(9,0.9),(12,0.92),(15,0.9),(18,0.92),(21,0.94),(24,0.92),(27,0.9),(30,0.9),(31,0.6),(33,0.5),(35,0.45),(37,0.48),(39,0.5),(41,0.48),(43,0.4),(45,0.35),(47,0.38),(49,0.45),(51,0.5),(53,0.52),(55,0.5),(57,0.55),(59,0.58),(61,0.5),(63,0.3),(65,0.18),(66,0.15),(68,0.3),(70,0.5),(71,0.6),(72,0.3),(73,0.1),(75,0.05),(78,0.04),(81,0.05),(82,0.3),(83,0.85),(85,0.95),(88,0.97),(91,0.95),(94,0.93),(97,0.92),(100,0.92),(103,0.93),(106,0.93),(109,0.9),(112,0.92),(115,0.93),(118,0.95),(120,0.96)]

charge_series = [q01, q02, q03, q04, q05, q06, q07, q08, q09, q10, q11, q12, q13, q14, q15, q16, q17, q18,
                 q19, q20, q21, q22, q23, q24, q25, q26, q27, q28, q29, q30, q31, q32, q33, q34, q35, q36]
cc_series = [cc01, cc02, cc03, cc04, cc05, cc06, cc07, cc08, cc09, cc10, cc11, cc12, cc13, cc14, cc15, cc16, cc17, cc18,
             cc19, cc20, cc21, cc22, cc23, cc24, cc25, cc26, cc27, cc28, cc29, cc30, cc31, cc32, cc33, cc34, cc35, cc36]
bla_series = [bla01, bla02, bla03, bla04, bla05, bla06, bla07, bla08, bla09, bla10, bla11, bla12, bla13, bla14, bla15, bla16, bla17, bla18,
              bla19, bla20, bla21, bla22, bla23, bla24, bla25, bla26, bla27, bla28, bla29, bla30, bla31, bla32, bla33, bla34, bla35, bla36]

charge_ticks = [0.0, 0.2, 0.4, 0.6, 0.8, 1.0, 1.2]


def style_axis(ax, color="black", size="11px"):
    ax.axis_line_color = None
    ax.major_tick_in = 4
    ax.major_tick_out = 0
    ax.minor_tick_in = 0
    ax.minor_tick_out = 0
    ax.major_tick_line_color = color
    ax.major_label_text_font = FONT
    ax.major_label_text_font_size = size
    ax.major_label_text_font_style = "bold"
    ax.major_label_text_color = color
    ax.major_label_standoff = 3
    ax.axis_label_text_font = FONT
    ax.axis_label_standoff = 2


def make_panel(i):
    xm, lo, hi = x_max[i], y_lo[i], y_hi[i]
    yr = hi - lo
    p = figure(width=307, height=204, x_range=Range1d(0, xm), y_range=Range1d(lo, hi),
               output_backend="svg", toolbar_location=None,
               min_border_left=48, min_border_right=38, min_border_top=11, min_border_bottom=27)
    p.extra_y_ranges = {"q": Range1d(0, 1.2)}
    p.xgrid.visible = False
    p.ygrid.visible = False
    p.outline_line_color = "#333333"
    p.outline_line_width = 1.3
    p.outline_line_alpha = 1.0

    # axes
    xa = p.xaxis[0]
    style_axis(xa, size="10.5px")
    step = 20 if xm >= 100 else 10
    xa.ticker = FixedTicker(ticks=list(range(0, xm + 1, step)))
    xa.major_label_standoff = 2
    xa.axis_label = "Time [fs]"
    xa.axis_label_text_font_size = "10px"
    xa.axis_label_text_font_style = "bold"
    xa.axis_label_standoff = 0

    ya = p.yaxis[0]
    style_axis(ya)
    n = int(round(yr / 0.05))
    ya.ticker = FixedTicker(ticks=[round(lo + 0.05 * k, 2) for k in range(n + 1)])
    ya.formatter = NumeralTickFormatter(format="0.00")
    ya.axis_label = "ΔC₁₁-C₁₂ // BLA [Å]"
    ya.axis_label_text_font_size = "13.5px"
    ya.axis_label_text_font_style = "normal"

    ra = LinearAxis(y_range_name="q")
    style_axis(ra, "#ff0000")
    ra.ticker = FixedTicker(ticks=charge_ticks)
    ra.formatter = NumeralTickFormatter(format="0.0")
    ra.axis_label = "Charge on N-moiety [e]"
    ra.axis_label_text_font_size = "12.5px"
    ra.axis_label_text_font_style = "bold"
    ra.axis_label_text_color = "#ff0000"
    p.add_layout(ra, "right")

    # background decorations
    if shade_start[i] is not None:
        p.add_layout(BoxAnnotation(left=shade_start[i], right=shade_end[i], fill_color="#c6c6c6",
                                   fill_alpha=1.0, line_color=None, level="underlay"))
    for v in charge_ticks[1:-1]:
        p.add_layout(Span(location=lo + v / 1.2 * yr, dimension="width", line_color="#ffb4b4",
                          line_dash="2 2", line_width=0.8, level="underlay"))
    p.add_layout(Span(location=0.0, dimension="width", line_color="#44e044", line_width=1.6,
                      level="underlay"))

    # data curves
    q = charge_series[i]
    c = cc_series[i]
    b = bla_series[i]
    p.line([t for t, _ in q], [v for _, v in q], y_range_name="q", line_color="#ff0000", line_width=2.4)
    p.line([t for t, _ in c], [v for _, v in c], line_color="#0000ff", line_width=1.1)
    p.line([t for t, _ in b], [v for _, v in b], line_color="#000000", line_width=1.1)

    # hopping arrows
    if hop_attempt[i] is not None:
        p.add_layout(Arrow(x_start=hop_attempt[i], y_start=lo, x_end=hop_attempt[i], y_end=hi,
                           line_color="#a8a8a8", line_width=1,
                           end=OpenHead(size=7, line_color="#a8a8a8", line_width=1)))
    p.add_layout(Arrow(x_start=hop_time[i], y_start=lo, x_end=hop_time[i], y_end=hi,
                       line_color="#000000", line_width=1,
                       end=OpenHead(size=7, line_color="#000000", line_width=1)))

    # title
    p.add_layout(Label(x=0, y=hi, x_offset=9, y_offset=-5, text="sqRh", text_font=FONT,
                       text_font_size="14px", text_baseline="top", text_color="#222222"))
    p.add_layout(Label(x=0, y=hi, x_offset=42, y_offset=-13, text=traj_names[i], text_font=FONT,
                       text_font_size="9.5px", text_baseline="top", text_color="#222222"))

    # legend
    ly = lo + 0.05 * yr
    p.add_layout(Label(x=0.012 * xm, y=ly, text="Charge on N-moiety", text_font=FONT,
                       text_font_size="9px", text_font_style="bold", text_baseline="middle"))
    p.segment(x0=[0.41 * xm], y0=[ly], x1=[0.47 * xm], y1=[ly], line_color="#ff0000", line_width=2)
    p.add_layout(Label(x=0.472 * xm, y=ly, text="C₁₁-C₁₂", text_font=FONT, text_color="#555555",
                       text_font_size="9.5px", text_baseline="middle"))
    p.segment(x0=[0.625 * xm], y0=[ly], x1=[0.69 * xm], y1=[ly], line_color="#0000ff", line_width=1.5)
    p.add_layout(Label(x=0.80 * xm, y=ly, text="BLA", text_font=FONT,
                       text_font_size="9px", text_font_style="bold", text_baseline="middle"))
    p.segment(x0=[0.875 * xm], y0=[ly], x1=[0.94 * xm], y1=[ly], line_color="#000000", line_width=1.5)
    return p


panels = [make_panel(i) for i in range(36)]
grid = gridplot(panels, ncols=4, toolbar_location=None)

open("out.html", "w").write(file_html(grid, INLINE))
